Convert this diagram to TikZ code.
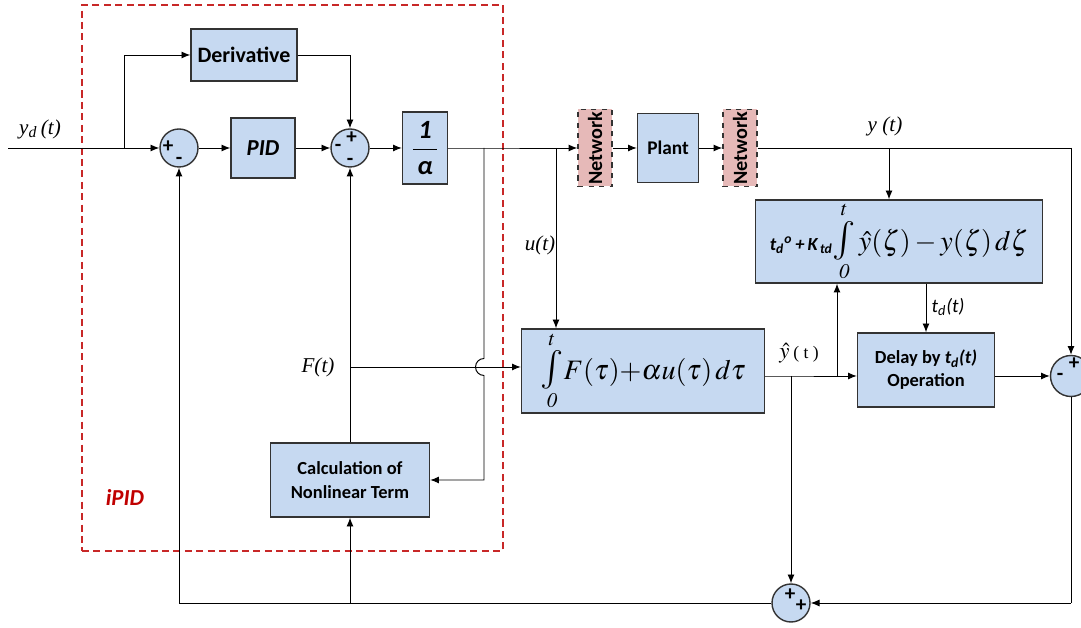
\documentclass[tikz,border=0pt]{standalone}
\usepackage{amsmath}
\usepackage{mathptmx}
\usepackage[no-math]{fontspec}
\setmainfont{Carlito}
\newfontfamily\tms{Liberation Serif}
\usepackage{tikz}
\usetikzlibrary{positioning, arrows.meta, calc}
\definecolor{BlkBlue}{RGB}{198,217,241}
\definecolor{NetPink}{RGB}{230,185,184}
\definecolor{IpidRed}{RGB}{200,40,40}
\definecolor{IpidText}{RGB}{192,0,0}
\newcommand{\obsint}{\mathop{\mbox{\fontsize{22}{22}\selectfont$\int$}}\limits}
\begin{document}
\begin{tikzpicture}[
          blk/.style={rectangle, draw=black!80, line width=0.8pt, fill=BlkBlue,
                      align=center, inner sep=2pt},
          sumc/.style={circle, draw=black!80, line width=0.8pt, fill=BlkBlue,
                       minimum size=0.76cm, inner sep=0pt},
          netw/.style={rectangle, draw=black!80, line width=0.8pt, dashed,
                       fill=NetPink, minimum width=0.68cm, minimum height=1.54cm,
                       inner sep=0pt, font=\bfseries\fontsize{11.5}{12}\selectfont},
          sgn/.style={font=\bfseries\fontsize{12}{12}\selectfont, inner sep=0pt},
          lbl/.style={font=\tms\itshape\fontsize{12}{14}\selectfont},
          arr/.style={-{Latex[length=5pt, width=4pt]}},
          line width=0.55pt
        ]
        \useasboundingbox (0,0) rectangle (21.62,12.56);

        % iPID region
        \node[draw=IpidRed, line width=0.8pt, dash pattern=on 4pt off 2.5pt,
              minimum width=8.42cm, minimum height=10.92cm] (ipid) at (5.85, 7.0) {};
        \node[font=\bfseries\itshape\fontsize{13}{14}\selectfont, text=IpidText]
              (ipidl) at (2.5, 2.62) {iPID};

        % controller blocks
        \node[sumc] (sum1) at (3.58, 9.6) {};
        \node[blk, minimum width=2.12cm, minimum height=1.04cm,
              font=\bfseries\fontsize{12.5}{14}\selectfont]
              (deriv) at (4.88, 11.46) {Derivative};
        \node[blk, minimum width=1.28cm, minimum height=1.2cm,
              font=\bfseries\itshape\fontsize{13}{14}\selectfont]
              (pid) at (5.26, 9.6) {PID};
        \node[sumc] (sum2) at (7.0, 9.6) {};
        \node[blk, minimum width=0.9cm, minimum height=1.44cm, inner sep=0pt,
              font=\bfseries\itshape\fontsize{15}{16}\selectfont]
              (alph) at (8.5, 9.6) {$\displaystyle\frac{\mbox{\,1\,}}{\mbox{\,α\,}}$};
        \node[blk, minimum width=3.18cm, minimum height=1.48cm,
              font=\bfseries\fontsize{10.5}{14}\selectfont]
              (calc) at (7.0, 2.96) {Calculation of\\Nonlinear Term};

        % summer signs
        \node[sgn] (s1a) at ($(sum1)+(-0.22,0.02)$) {+};
        \node[sgn] (s1b) at ($(sum1)+(0.0,-0.26)$) {-};
        \node[sgn] (s2a) at ($(sum2)+(-0.24,0)$) {-};
        \node[sgn] (s2b) at ($(sum2)+(0.03,0.2)$) {+};
        \node[sgn] (s2c) at ($(sum2)+(0.0,-0.27)$) {-};

        % network and plant
        \node[netw] (net1) at (11.9, 9.6) {\rotatebox{90}{Network}};
        \node[blk, minimum width=1.22cm, minimum height=1.38cm,
              font=\bfseries\fontsize{11}{12}\selectfont]
              (plant) at (13.36, 9.6) {Plant};
        \node[netw] (net2) at (14.8, 9.6) {\rotatebox{90}{Network}};

        % observer blocks
        \node[blk, minimum width=4.86cm, minimum height=1.68cm, inner sep=0pt,
              font=\fontsize{16}{18}\selectfont]
              (fbox) at (12.86, 5.14)
              {$\obsint_{\mathit{0}}^{t}\!F(\tau){+}\alpha u(\tau)\,d\tau$};
        \node[blk, minimum width=5.74cm, minimum height=1.66cm, inner sep=0pt,
              font=\fontsize{16}{18}\selectfont]
              (tdbox) at (17.98, 7.73)
              {{\bfseries\itshape\fontsize{10.5}{12}\selectfont
               t\textsubscript{d}\textsuperscript{o}\,+\,K\textsubscript{\,td}}%
               $\obsint_{\mathit{0}}^{t}\hat{y}(\zeta)-y(\zeta)\,d\zeta$};
        \node[blk, minimum width=2.74cm, minimum height=1.48cm,
              font=\bfseries\fontsize{10.5}{13}\selectfont]
              (dly) at (18.52, 5.16) {Delay by \textit{t\textsubscript{d}(t)}\\Operation};
        \node[sumc, minimum size=0.82cm] (sum3) at (21.42, 5.04) {};
        \node[sgn] (s3a) at ($(sum3)+(0.06,0.24)$) {+};
        \node[sgn] (s3b) at ($(sum3)+(-0.22,-0.02)$) {-};
        \node[sumc] (sum4) at (15.82, 0.5) {};
        \node[sgn] (s4a) at ($(sum4)+(-0.02,0.16)$) {+};
        \node[sgn] (s4b) at ($(sum4)+(0.2,-0.06)$) {+};

        % signal labels
        \node[lbl] (ydl) at (0.8, 9.98) {y\textsubscript{d}\,(t)};
        \node[lbl] (ul) at (10.8, 7.66) {u(t)};
        \node[lbl] (fl) at (6.36, 5.22) {F(t)};
        \node[lbl] (yl) at (17.7, 10.04) {y (t)};
        \node[font=\fontsize{13}{14}\selectfont] (yhl) at (15.98, 5.5)
              {$\hat{y}$\,{\tms\fontsize{10}{12}\selectfont( t )}};
        \node[font=\itshape\fontsize{11}{12}\selectfont] (tdl) at (18.96, 6.42)
              {t\textsubscript{d}(t)};

        % junction points
        \coordinate (yin) at (0.16, 9.6);
        \coordinate (ydb) at (2.48, 9.6);
        \coordinate (b1)  at (9.68, 9.6);
        \coordinate (bu)  at (11.12, 9.6);
        \coordinate (by)  at (17.78, 9.6);
        \coordinate (br)  at (21.42, 9.6);
        \coordinate (fs)  at (7.0, 5.22);
        \coordinate (hy)  at (15.82, 5.04);
        \coordinate (ht)  at (16.74, 5.04);
        \coordinate (br2) at (21.42, 0.5);
        \coordinate (bl)  at (3.58, 0.5);
        \coordinate (bc)  at (7.0, 0.5);

        % controller wiring
        \draw (yin) -- (ydb);
        \draw[arr] (ydb) -- (sum1.west);
        \draw[arr] (ydb) |- (deriv.west);
        \draw[arr] (sum1) -- (pid);
        \draw[arr] (pid) -- (sum2);
        \draw[arr] (deriv.east) -| (sum2.north);
        \draw[arr] (sum2) -- (alph);
        \draw (alph.east) -- (b1) -- (bu);
        \draw[arr] (bu) -- (net1.west);
        \draw[arr] (net1) -- (plant);
        \draw[arr] (plant) -- (net2);
        \draw[arr] (calc.north) -- (sum2.south);
        \draw[arr] (fs) -- (fs -| fbox.west);
        \draw[arr] (b1) -- ($(b1 |- fs)+(0,0.17)$)
              arc[start angle=90, end angle=270, radius=0.17]
              -- (b1 |- calc.east) -- (calc.east);
        \draw[arr] (bu) -- (bu |- fbox.north);

        % observer wiring
        \draw (net2.east) -- (br);
        \draw[arr] (br) -- (sum3.north);
        \draw[arr] (by) -- (by |- tdbox.north);
        \draw (fbox.east |- hy) -- (hy) -- (ht);
        \draw[arr] (ht) -- (ht -| dly.west);
        \draw[arr] (ht) -- (ht |- tdbox.south);
        \draw[arr] (dly.north |- tdbox.south) -- (dly.north);
        \draw[arr] (dly.east |- sum3) -- (sum3.west);
        \draw[arr] (hy) -- (sum4.north);
        \draw (sum3.south) -- (br2);
        \draw[arr] (br2) -- (sum4.east);
        \draw (sum4.west) -- (bl);
        \draw[arr] (bl) -- (sum1.south);
        \draw[arr] (bc) -- (calc.south);
      \end{tikzpicture}
\end{document}
